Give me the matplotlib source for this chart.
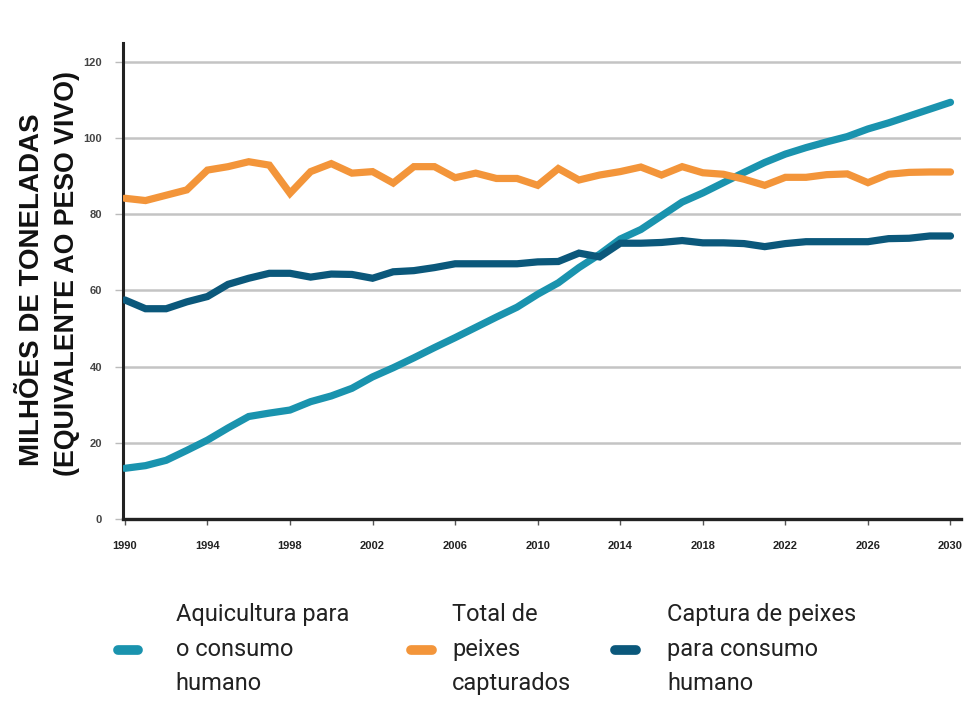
import matplotlib
matplotlib.use("Agg")
import matplotlib.pyplot as plt
from matplotlib.lines import Line2D

years = list(range(1990, 2031))
aquicultura = [13.3, 14.0, 15.4, 18.0, 20.7, 23.9, 26.9, 27.8, 28.6, 30.8,
               32.3, 34.3, 37.3, 39.7, 42.3, 45.0, 47.6, 50.3, 53.0, 55.6,
               59.0, 62.0, 66.0, 69.5, 73.5, 76.0, 79.6, 83.2, 85.6, 88.3,
               91.0, 93.6, 95.8, 97.5, 99.0, 100.4, 102.4, 104.0, 105.8, 107.6, 109.4]
total_capturados = [84.2, 83.6, 85.0, 86.4, 91.6, 92.5, 93.8, 92.9, 85.5, 91.2,
                    93.3, 90.8, 91.2, 88.2, 92.5, 92.5, 89.6, 90.8, 89.4, 89.4,
                    87.6, 92.0, 89.0, 90.3, 91.2, 92.4, 90.3, 92.5, 90.9, 90.5,
                    89.2, 87.6, 89.7, 89.7, 90.4, 90.6, 88.3, 90.5, 91.0, 91.1, 91.1]
captura_consumo = [57.5, 55.2, 55.2, 57.0, 58.4, 61.6, 63.2, 64.5, 64.5, 63.5,
                   64.3, 64.2, 63.2, 64.9, 65.2, 66.0, 67.0, 67.0, 67.0, 67.0,
                   67.5, 67.6, 69.8, 68.8, 72.4, 72.4, 72.6, 73.1, 72.5, 72.5,
                   72.3, 71.5, 72.3, 72.8, 72.8, 72.8, 72.8, 73.6, 73.7, 74.3, 74.3]

labels = ["Aquicultura para\no consumo\nhumano",
          "Total de\npeixes\ncapturados",
          "Captura de peixes\npara consumo\nhumano"]
colors = ["#1a93ae", "#f3953a", "#0b587b"]
y_ticks = [0, 20, 40, 60, 80, 100, 120]
x_ticks = list(range(1990, 2031, 4))

tickfont = ["Liberation Sans", "DejaVu Sans"]
legfont = ["Roboto", "DejaVu Sans"]

fig = plt.figure(figsize=(9.67, 7.17), dpi=100)
ax = fig.add_axes([0.127, 0.2762, 0.8666, 0.664])

series = [aquicultura, total_capturados, captura_consumo]
for vals, c in zip(series, colors):
    ax.plot(years, vals, color=c, lw=5.2, solid_capstyle="round",
            solid_joinstyle="miter", zorder=3)

ax.set_xlim(1989.9, 2030.5)
ax.set_ylim(0, 125)
ax.set_yticks(y_ticks)
ax.set_xticks(x_ticks)
ax.set_xticklabels([str(x) for x in x_ticks], fontfamily=tickfont,
                   fontweight="bold", fontsize=8, color="#222222")
ax.set_yticklabels([str(y) for y in y_ticks], fontfamily=tickfont,
                   fontweight="bold", fontsize=8, color="#444444")
ax.tick_params(axis="y", length=6, width=1, color="#bbbbbb", pad=9)
ax.tick_params(axis="x", length=4, width=1, color="#555555", pad=12)

ax.grid(axis="y", color="#c4c4c4", lw=1.8, zorder=1)
for s in ["top", "right"]:
    ax.spines[s].set_visible(False)
ax.spines["left"].set_linewidth(2.2)
ax.spines["left"].set_color("#222222")
ax.spines["bottom"].set_linewidth(2.4)
ax.spines["bottom"].set_color("#222222")
ax.spines["bottom"].set_zorder(4)

fig.text(0.033, 0.5955, "MILHÕES DE TONELADAS", rotation=90, ha="center",
         va="center", fontsize=20, fontweight="bold", color="#111111",
         family=["Liberation Sans", "DejaVu Sans"])
fig.text(0.069, 0.6185, "(EQUIVALENTE AO PESO VIVO)", rotation=90, ha="center",
         va="center", fontsize=19.3, fontweight="bold", color="#111111",
         family=["Liberation Sans", "DejaVu Sans"])

# legend entries
legend_pos = [(0.122, 0.0948), (0.4255, 0.0948), (0.6365, 0.0948)]
pads = [1.6, 0.88, 1.35]
for lab, c, pos, pad in zip(labels, colors, legend_pos, pads):
    h = Line2D([], [], color=c, lw=7, solid_capstyle="round")
    leg = fig.legend(handles=[h], labels=[lab], loc="center left",
                     bbox_to_anchor=pos, frameon=False, handlelength=0.85,
                     handletextpad=pad, borderpad=0, borderaxespad=0,
                     prop={"family": legfont, "size": 17})
    for t in leg.get_texts():
        t.set_linespacing(1.65)
        t.set_color("#222222")

fig.savefig("out.png", dpi=100)
